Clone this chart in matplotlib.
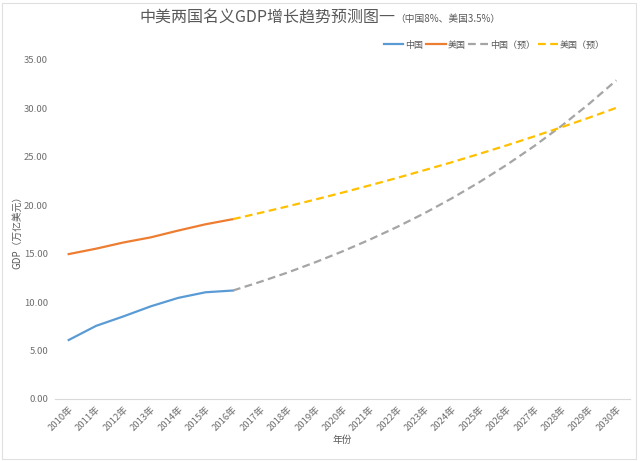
import matplotlib
matplotlib.use("Agg")
import matplotlib.pyplot as plt
from matplotlib.ticker import FormatStrFormatter

plt.rcParams['font.family'] = ['Noto Sans CJK SC', 'DejaVu Sans']

years = ["2010年", "2011年", "2012年", "2013年", "2014年", "2015年", "2016年",
         "2017年", "2018年", "2019年", "2020年", "2021年", "2022年", "2023年",
         "2024年", "2025年", "2026年", "2027年", "2028年", "2029年", "2030年"]

china = [6.09, 7.55, 8.53, 9.57, 10.44, 11.02, 11.20]
usa = [14.96, 15.52, 16.16, 16.69, 17.39, 18.04, 18.57]

china_proj = [11.20, 12.10, 13.06, 14.11, 15.24, 16.46, 17.77, 19.19,
              20.73, 22.39, 24.18, 26.11, 28.20, 30.46, 32.90]
usa_proj = [18.57, 19.22, 19.89, 20.59, 21.31, 22.06, 22.83, 23.63,
            24.45, 25.31, 26.19, 27.11, 28.06, 29.04, 30.06]

series_names = ["中国", "美国", "中国（预）", "美国（预）"]
colors = ["#5B9BD5", "#ED7D31", "#A5A5A5", "#FFC000"]

fig = plt.figure(figsize=(6.4, 4.61), dpi=100)
ax = fig.add_axes([55/640, 1-399/461, (630-55)/640, (399-60)/461])

x_hist = list(range(len(china)))
x_proj = list(range(len(china) - 1, len(china) - 1 + len(china_proj)))

ax.plot(x_hist, china, color=colors[0], lw=1.6, label=series_names[0])
ax.plot(x_hist, usa, color=colors[1], lw=1.6, label=series_names[1])
ax.plot(x_proj, china_proj, color=colors[2], lw=1.6, dashes=(3.5, 2), label=series_names[2])
ax.plot(x_proj, usa_proj, color=colors[3], lw=1.6, dashes=(3.5, 2), label=series_names[3])

ax.set_xlim(-0.5, len(years) - 0.5)
ax.set_ylim(0, 35)
ax.set_yticks([0, 5, 10, 15, 20, 25, 30, 35])
ax.yaxis.set_major_formatter(FormatStrFormatter('%.2f'))
ax.set_xticks(range(len(years)))
ax.set_xticklabels(years, rotation=45, ha='right', rotation_mode='anchor')

for s in ['top', 'right', 'left']:
    ax.spines[s].set_visible(False)
ax.spines['bottom'].set_color('#D9D9D9')
ax.spines['bottom'].set_linewidth(0.8)
ax.tick_params(axis='both', length=0, colors='#6E6E6E', labelsize=6.8)
ax.tick_params(axis='y', pad=5)
ax.tick_params(axis='x', pad=4)

ax.set_ylabel("GDP（万亿美元）", color='#595959', fontsize=7, labelpad=1)
ax.set_xlabel("年份", color='#595959', fontsize=7, labelpad=2)

fig.text(395/640, 1-18/461, "中美两国名义GDP增长趋势预测图一", ha='right', va='center',
         fontsize=11.5, color='#595959')
fig.text(395/640, 1-19/461, "（中国8%、美国3.5%）", ha='left', va='center',
         fontsize=7, color='#595959')

leg = fig.legend(loc='center right', bbox_to_anchor=(608/640, 1-45/461), ncol=4,
                 frameon=False, fontsize=6.5, handlelength=2.2, columnspacing=0.3,
                 handletextpad=0.2, borderaxespad=0)
for t in leg.get_texts():
    t.set_color('#595959')

# outer light border
fig.patches.append(plt.Rectangle((2/640, 2/461), 634/640, 456/461, transform=fig.transFigure,
                                 fill=False, edgecolor='#E0E0E0', lw=0.8))

fig.savefig("out.png", dpi=100, facecolor='white')
